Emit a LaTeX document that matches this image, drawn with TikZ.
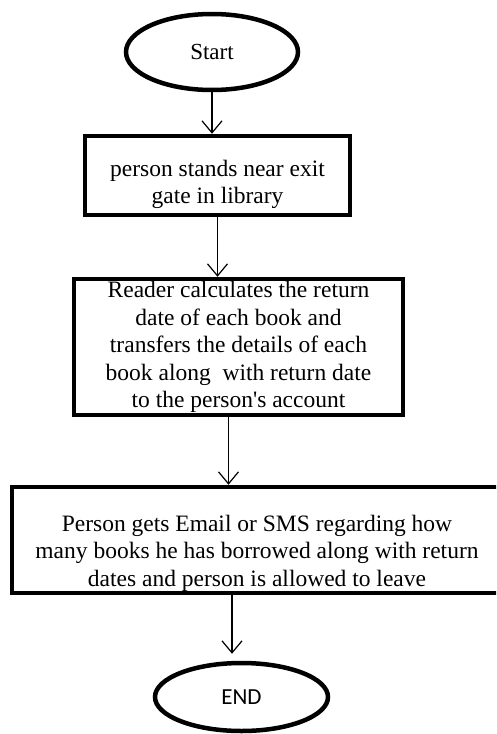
\documentclass[tikz,border=0pt]{standalone}
\usepackage{fontspec}
\setmainfont{Liberation Serif}
\newfontfamily\endfont{Carlito}
\usetikzlibrary{shapes.geometric,arrows.meta}

\begin{document}
\begin{tikzpicture}[x=1pt,y=-1pt,
    term/.style={ellipse,draw=black,line width=4.5pt,fill=white,inner sep=0pt,font=\fontsize{23}{27}\selectfont},
    procbox/.style={rectangle,draw=black,line width=4.5pt,fill=white,align=center,inner sep=0pt,font=\fontsize{23.5}{27.5}\selectfont},
    flow/.style={draw=black,line width=1.2pt,-{Straight Barb[length=12pt,width=20pt]}}]
  \clip (0,0) rectangle (496,734);
  \node[term,minimum width=172pt,minimum height=76pt] (start) at (212,52) {Start};
  \node[procbox,minimum width=265pt,minimum height=79pt] (stand) at (217.5,175.5)
    {\rule{0pt}{34pt}person stands near exit\\gate in library};
  \node[procbox,minimum width=329pt,minimum height=136pt] (reader) at (238.5,347)
    {Reader calculates the return\\date of each book and\\transfers the details of each\\book along\ \ with return date\\to the person\textquotesingle s account};
  \node[procbox,minimum width=490pt,minimum height=106pt] (notify) at (257,540)
    {\rule{0pt}{42pt}Person gets Email or SMS regarding how\\many books he has borrowed along with return\\dates and person is allowed to leave};
  \node[term,minimum width=173pt,minimum height=68pt,font=\endfont\fontsize{23}{27}\selectfont] (end) at (241.5,697) {END};

  \path[flow] (start.south) -- (start.south |- stand.north);
  \path[flow] (stand.south) -- (stand.south |- reader.north);
  \path[flow] ([xshift=-10pt]reader.south) -- ([xshift=-10pt]reader.south |- notify.north);
  \path[flow,shorten >=7pt] ([xshift=-25pt]notify.south) -- ([xshift=-25pt]notify.south |- end.north);
\end{tikzpicture}
\end{document}
